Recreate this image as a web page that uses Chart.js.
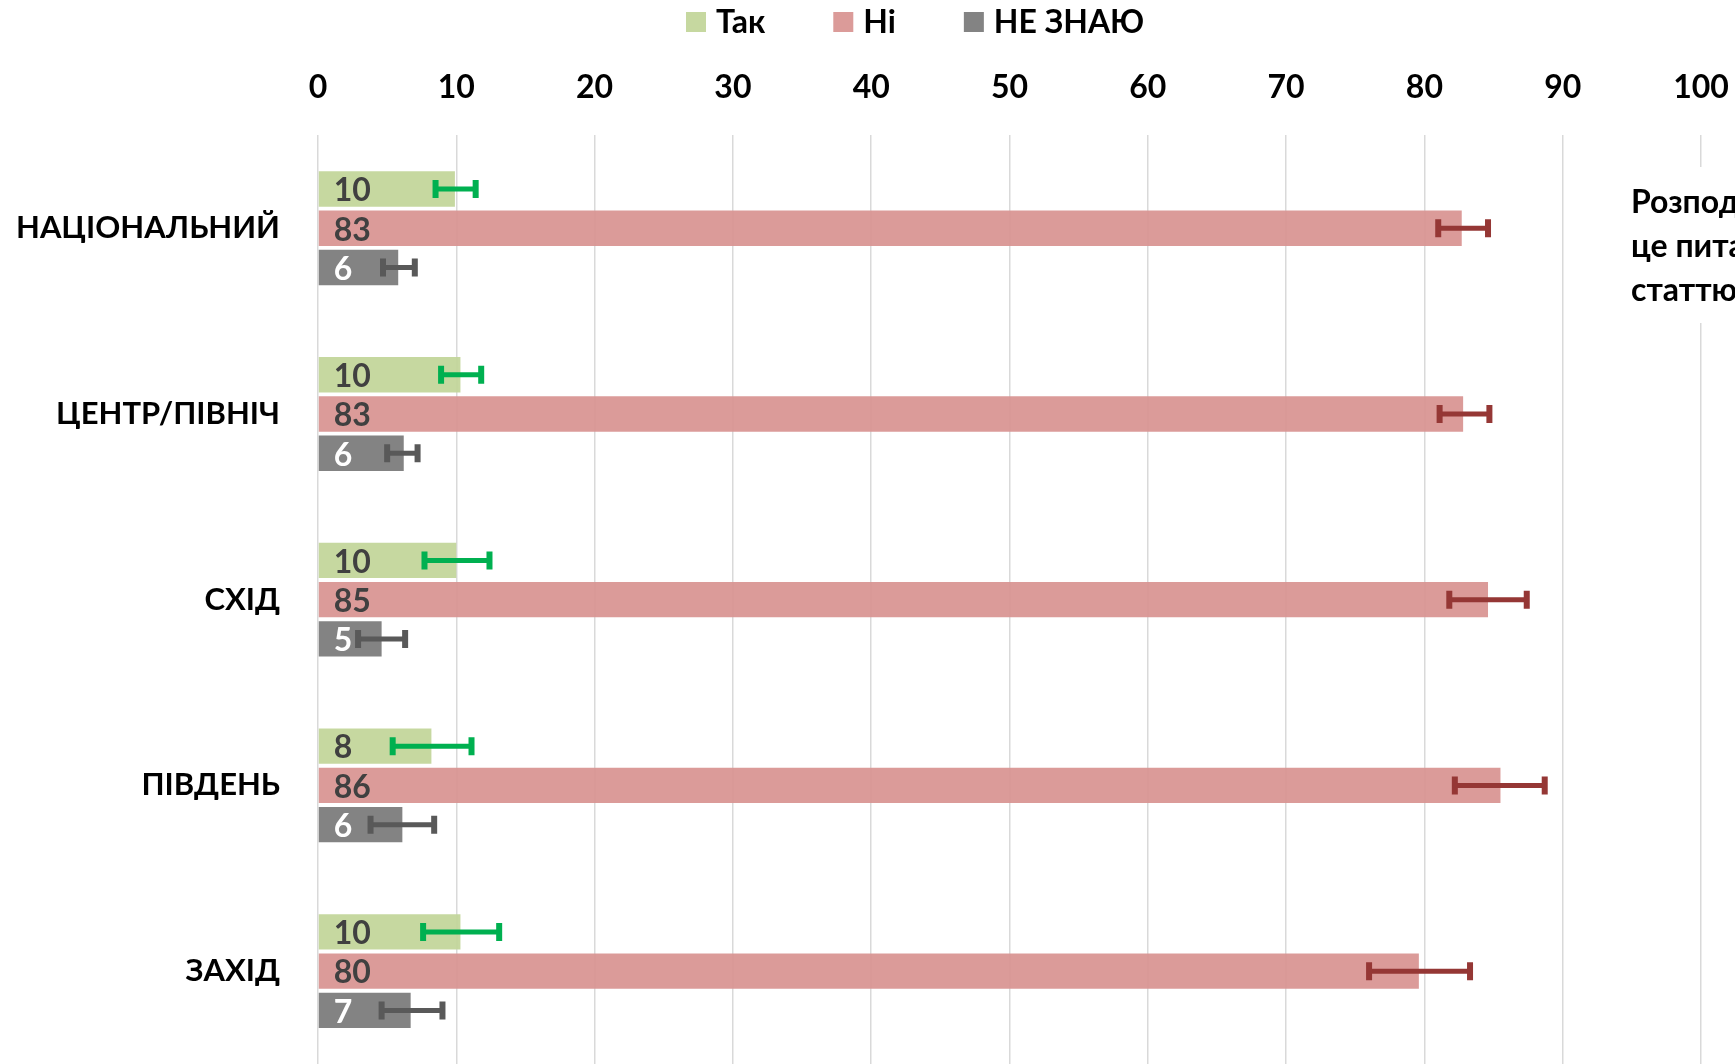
<!DOCTYPE html>
<html>
<head>
<meta charset="utf-8">
<script src="https://cdn.jsdelivr.net/npm/chart.js@4.4.0/dist/chart.umd.min.js"></script>
<style>
html, body { margin: 0; padding: 0; background: #fff; overflow: hidden; }
#wrap { position: relative; width: 1735px; height: 1064px; }
</style>
</head>
<body>
<div id="wrap"><canvas id="regionChart"></canvas></div>
<script>
// regions (y axis)
var categories = ['НАЦІОНАЛЬНИЙ', 'ЦЕНТР/ПІВНІЧ', 'СХІД', 'ПІВДЕНЬ', 'ЗАХІД'];
var seriesNames = ['Так', 'Ні', 'НЕ ЗНАЮ'];
var xTicks = [0, 10, 20, 30, 40, 50, 60, 70, 80, 90, 100];

// values, %
var yesValues = [9.9, 10.3, 10.0, 8.2, 10.3];
var noValues = [82.7, 82.8, 84.6, 85.5, 79.6];
var dkValues = [5.8, 6.2, 4.6, 6.1, 6.7];

// error bar ends
var yesLow = [8.5, 8.9, 7.7, 5.4, 7.6];
var yesHigh = [11.4, 11.8, 12.4, 11.1, 13.1];
var noLow = [81.0, 81.1, 81.8, 82.2, 76.0];
var noHigh = [84.6, 84.7, 87.4, 88.7, 83.3];
var dkLow = [4.7, 5.0, 2.9, 3.8, 4.6];
var dkHigh = [7.0, 7.2, 6.3, 8.4, 9.0];

var noteLines = ['Розподіл відповідей на', 'це питання за', 'статтю'];

var barColors = ['rgba(195, 214, 155, 0.95)', 'rgba(217, 150, 148, 0.95)', 'rgba(127, 127, 127, 0.97)'];
var labelColors = ['#404040', '#404040', '#ffffff'];
var errColors = ['#00B050', '#953735', '#595959'];
var errLow = [yesLow, noLow, dkLow];
var errHigh = [yesHigh, noHigh, dkHigh];

var FONT = 'Lato, "Open Sans", sans-serif';

var extras = {
    id: 'extras',
    afterDatasetsDraw: function (chart) {
        var ctx = chart.ctx;
        var xs = chart.scales.x;
        chart.data.datasets.forEach(function (ds, i) {
            var meta = chart.getDatasetMeta(i);
            meta.data.forEach(function (bar, j) {
                ctx.save();
                // value label inside bar
                ctx.font = 'bold 32px ' + FONT;
                ctx.fillStyle = labelColors[i];
                ctx.textAlign = 'left';
                ctx.textBaseline = 'middle';
                ctx.fillText(Math.round(ds.data[j]), bar.base + 15, bar.y + 2);
                // error bar
                var x1 = xs.getPixelForValue(errLow[i][j]);
                var x2 = xs.getPixelForValue(errHigh[i][j]);
                ctx.strokeStyle = errColors[i];
                ctx.lineWidth = 5;
                ctx.beginPath();
                ctx.moveTo(x1, bar.y);
                ctx.lineTo(x2, bar.y);
                ctx.stroke();
                ctx.lineWidth = 6;
                ctx.beginPath();
                ctx.moveTo(x1, bar.y - 9);
                ctx.lineTo(x1, bar.y + 9);
                ctx.moveTo(x2, bar.y - 9);
                ctx.lineTo(x2, bar.y + 9);
                ctx.stroke();
                ctx.restore();
            });
        });
    },
    afterDraw: function (chart) {
        var ctx = chart.ctx;
        ctx.save();
        // legend
        ctx.font = 'bold 32px ' + FONT;
        ctx.textBaseline = 'middle';
        ctx.textAlign = 'left';
        var x = 686, y = 22;
        chart.data.datasets.forEach(function (ds, i) {
            ctx.fillStyle = barColors[i];
            ctx.fillRect(x, y - 10, 20, 20);
            ctx.fillStyle = '#000';
            ctx.fillText(ds.label, x + 30, y + 1);
            x += 30 + ctx.measureText(ds.label).width + 68;
        });
        // side note (cut at the right edge)
        ctx.fillStyle = '#fff';
        ctx.fillRect(1620, 167, 120, 156);
        ctx.fillStyle = '#000';
        noteLines.forEach(function (t, k) {
            ctx.fillText(t, 1631, 203 + k * 44);
        });
        ctx.restore();
    }
};

var chart = new Chart(document.getElementById('regionChart'), {
    type: 'bar',
    data: {
        labels: categories,
        datasets: [
            { label: seriesNames[0], data: yesValues, backgroundColor: barColors[0] },
            { label: seriesNames[1], data: noValues, backgroundColor: barColors[1] },
            { label: seriesNames[2], data: dkValues, backgroundColor: barColors[2] }
        ]
    },
    options: {
        indexAxis: 'y',
        responsive: true,
        maintainAspectRatio: false,
        animation: false,
        layout: { padding: { top: 39, right: 34, bottom: 0, left: 0 } },
        datasets: {
            bar: { categoryPercentage: 0.634, barPercentage: 0.9 }
        },
        plugins: {
            legend: { display: false },
            tooltip: { enabled: false }
        },
        scales: {
            x: {
                position: 'top',
                min: 0,
                max: 100,
                afterBuildTicks: function (s) {
                    s.ticks = xTicks.map(function (v) { return { value: v }; });
                },
                afterFit: function (s) {
                    s.paddingLeft = 0;
                    s.paddingRight = 0;
                },
                grid: { color: '#D9D9D9', lineWidth: 1.5, drawTicks: false },
                border: { display: false },
                ticks: {
                    padding: 29,
                    color: '#000',
                    font: { family: FONT, size: 32, weight: 'bold' }
                }
            },
            y: {
                afterFit: function (s) {
                    s.width = 318;
                    s.paddingTop = 0;
                    s.paddingBottom = 0;
                },
                grid: { display: false, drawTicks: false },
                border: { display: false },
                ticks: {
                    padding: 38,
                    color: '#000',
                    font: { family: FONT, size: 31, weight: 'bold' }
                }
            }
        }
    },
    plugins: [extras]
});
</script>
</body>
</html>
